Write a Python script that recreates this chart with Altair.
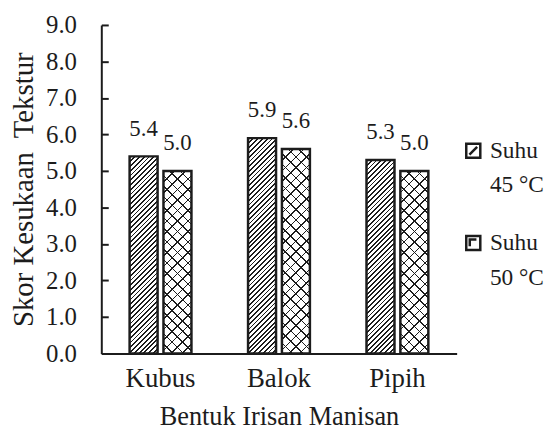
import math
import altair as alt
import pandas as pd

# ---- data ----
categories = ["Kubus", "Balok", "Pipih"]
suhu = ["45 °C", "50 °C"]
skor_45 = [5.4, 5.9, 5.3]
skor_50 = [5.0, 5.6, 5.0]
y_ticks = [0, 1, 2, 3, 4, 5, 6, 7, 8, 9]

rows = []
for c, a, b in zip(categories, skor_45, skor_50):
    rows.append({"Bentuk": c, "Suhu": suhu[0], "Skor": a})
    rows.append({"Bentuk": c, "Suhu": suhu[1], "Skor": b})
df = pd.DataFrame(rows)

# ---- layout ----
W, H = 358, 331
YMAX = 9
P_INNER, P_OUTER = 0.478, 0.239
OFF_INNER = 0.174
FONT = "Liberation Serif"
INK = "#1c1c1c"

step = W / (len(categories) - P_INNER + 2 * P_OUTER)
band = step * (1 - P_INNER)
sub_step = band / (2 - OFF_INNER)
bar_w = sub_step * (1 - OFF_INNER)


def stripes(w, h, spacing, thick, direction, bg):
    """linear gradient imitating a hatch pattern on a w x h px rect"""
    k = (w + h) / (w * w + h * h)
    a, b = k * w, k * h
    if direction == "/":
        x1, y1, x2, y2 = 0, 0, a, b
    else:
        x1, y1, x2, y2 = 1, 0, 1 - a, b
    n = (w + h) / (spacing * math.sqrt(2))
    th = thick * math.sqrt(2) / (w + h)
    stops = []
    i = 0
    while i / n < 1:
        t0 = i / n
        t1 = min(1, t0 + th)
        t2 = min(1, (i + 1) / n)
        stops += [
            {"offset": round(t0, 5), "color": INK},
            {"offset": round(t1, 5), "color": INK},
            {"offset": round(t1, 5), "color": bg},
            {"offset": round(t2, 5), "color": bg},
        ]
        i += 1
    return {"gradient": "linear", "x1": x1, "y1": y1, "x2": x2, "y2": y2, "stops": stops}


def test_of(r):
    return f"datum.Bentuk === '{r['Bentuk']}' && datum.Suhu === '{r['Suhu']}'"


base_conds, over_conds = [], []
for _, r in df.iterrows():
    h = r["Skor"] / YMAX * H
    if r["Suhu"] == suhu[0]:
        g = stripes(bar_w, h, 3.4, 1.3, "/", "white")
        o = "transparent"
    else:
        g = stripes(bar_w, h, 7.5, 1.1, "/", "white")
        o = stripes(bar_w, h, 7.5, 1.1, "\\", "rgba(255,255,255,0)")
    base_conds.append({"test": test_of(r), "value": g})
    over_conds.append({"test": test_of(r), "value": o})

base_fill = {"condition": base_conds[:-1], "value": base_conds[-1]["value"]}
over_fill = {"condition": over_conds[:-1], "value": over_conds[-1]["value"]}

yscale = alt.Scale(domain=[0, YMAX], nice=False, zero=True)

x_enc = alt.X(
    "Bentuk:N",
    sort=categories,
    scale=alt.Scale(paddingInner=P_INNER, paddingOuter=P_OUTER),
    axis=alt.Axis(
        title="Bentuk Irisan Manisan",
        labelAngle=0,
        ticks=False,
        domainColor=INK,
        domainWidth=2,
        labelFont=FONT,
        labelFontSize=27,
        labelColor=INK,
        labelPadding=12,
        titleFont=FONT,
        titleFontSize=26.5,
        titleFontWeight="normal",
        titleColor=INK,
        titlePadding=13,
        grid=False,
    ),
)
xo_enc = alt.XOffset(
    "Suhu:N", sort=suhu, scale=alt.Scale(paddingInner=OFF_INNER, paddingOuter=0)
)

base = alt.Chart(df).encode(x=x_enc, xOffset=xo_enc)

path45 = "M-1,-1H1V1H-1Z M-0.55,0.55L0.55,-0.55"
path50 = "M-1,-1H1V1H-1Z M-0.5,0.45V-0.5H0.45"

legend_layer = base.transform_calculate(half="datum.Skor / 2").mark_point(
    filled=False, stroke=INK, strokeWidth=2.5, size=80, opacity=1
).encode(
    y=alt.Y("half:Q", scale=yscale, axis=None),
    shape=alt.Shape(
        "Suhu:N",
        scale=alt.Scale(domain=suhu, range=[path45, path50]),
        legend=alt.Legend(
            title=None,
            orient="none",
            legendX=W + 5,
            legendY=115,
            labelExpr="datum.value === '45 °C' ? ['Suhu', '45 °C'] : ['Suhu', '50 °C']",
            labelFont=FONT,
            labelFontSize=23.5,
            labelColor=INK,
            labelBaseline="middle",
            labelOffset=5,
            symbolSize=200,
            symbolStrokeColor=INK,
            symbolStrokeWidth=2.5,
            rowPadding=33,
        ),
    ),
)

bars = base.mark_bar(strokeWidth=0).encode(
    y=alt.Y(
        "Skor:Q",
        scale=yscale,
        axis=alt.Axis(
            title="Skor Kesukaan\u00a0 Tekstur",
            orient="left",
            values=y_ticks,
            format=".1f",
            tickSize=0,
            domainColor=INK,
            domainWidth=2,
            labelFont=FONT,
            labelFontSize=25,
            labelColor=INK,
            labelPadding=25,
            titleFont=FONT,
            titleFontSize=29,
            titleFontWeight="normal",
            titleColor=INK,
            titlePadding=7,
            grid=False,
        ),
    ),
    fill=base_fill,
)

overlay = base.mark_bar(strokeWidth=0).encode(
    y=alt.Y("Skor:Q", scale=yscale, axis=None),
    fill=over_fill,
)

outline = base.mark_bar(fill="transparent", stroke=INK, strokeWidth=2.5).encode(
    y=alt.Y(
        "Skor:Q",
        scale=yscale,
        axis=alt.Axis(
            title=None,
            orient="right",
            offset=-W,
            values=y_ticks,
            labels=False,
            domain=False,
            tickSize=7,
            tickWidth=2,
            tickColor=INK,
            grid=False,
        ),
    ),
)

labels = base.mark_text(
    font=FONT, fontSize=23, color=INK, baseline="alphabetic", dy=-21
).encode(
    y=alt.Y("Skor:Q", scale=yscale, axis=None),
    text=alt.Text("Skor:Q", format=".1f"),
)

chart = (
    alt.layer(legend_layer, bars, overlay, outline, labels)
    .resolve_axis(y="independent")
    .properties(
        width=W,
        height=H,
        padding={"left": 1, "top": 3.5, "right": 0, "bottom": 0},
        background="white",
    )
    .configure(
        view=alt.ViewConfig(strokeWidth=0),
        style={"guide-label": {"lineHeight": 35}},
    )
)

chart.save("out.html", embed_options={"renderer": "svg", "actions": False})
